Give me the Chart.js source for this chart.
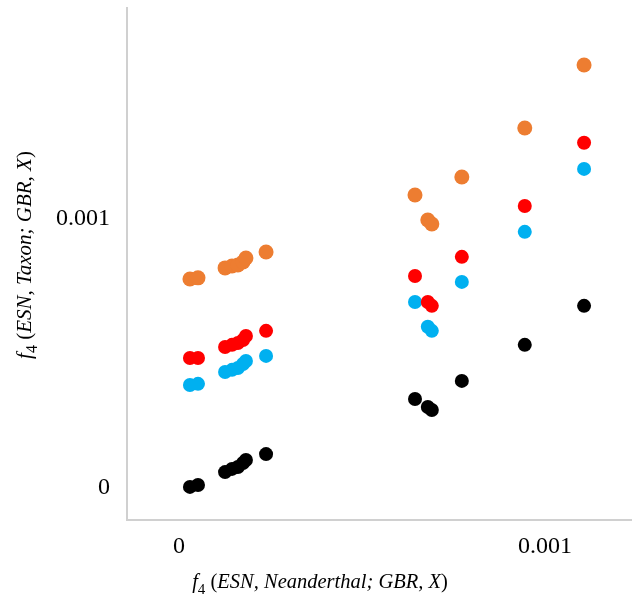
<!DOCTYPE html>
<html>
<head>
<meta charset="utf-8">
<script src="https://cdn.jsdelivr.net/npm/chart.js@4.4.1/dist/chart.umd.min.js"></script>
<style>
  html, body { margin: 0; padding: 0; background: #ffffff; }
  #wrap { width: 632px; height: 597px; position: relative; }
</style>
</head>
<body>
<div id="wrap"><canvas id="c" width="632" height="597"></canvas></div>
<script>
// f4(ESN, Neanderthal; GBR, X) for each population X
const xValues = [0.000030, 0.000052, 0.000126, 0.000145, 0.000161, 0.000175, 0.000183, 0.000238,
                 0.000645, 0.000680, 0.000691, 0.000773, 0.000945, 0.001107];
// f4(ESN, Taxon; GBR, X) for four taxa
const blackValues  = [0.000004, 0.000011, 0.000059, 0.000071, 0.000078, 0.000093, 0.000104, 0.000126,
                      0.000331, 0.000301, 0.000290, 0.000398, 0.000532, 0.000677];
const blueValues   = [0.000383, 0.000387, 0.000431, 0.000439, 0.000446, 0.000461, 0.000472, 0.000491,
                      0.000691, 0.000599, 0.000584, 0.000766, 0.000952, 0.001186];
const redValues    = [0.000483, 0.000483, 0.000524, 0.000532, 0.000539, 0.000550, 0.000565, 0.000584,
                      0.000788, 0.000691, 0.000677, 0.000859, 0.001048, 0.001283];
const orangeValues = [0.000777, 0.000781, 0.000818, 0.000825, 0.000829, 0.000840, 0.000855, 0.000877,
                      0.001089, 0.000996, 0.000981, 0.001156, 0.001338, 0.001572];
const xTicks = [0, 0.001];
const yTicks = [0, 0.001];
const tickLabels = ['0', '0.001'];

function pts(ys) { return xValues.map((x, i) => ({ x: x, y: ys[i] })); }

const SERIF = '"Liberation Serif", "Times New Roman", serif';

// draws the mixed-style axis titles: f (italic) 4 (subscript) ( ESN... (italic) )
function drawTitle(ctx, cx, cy, rotate, size, words) {
  const segs = [
    { t: 'f', f: 'italic ' + size + 'px ' + SERIF, dy: 0 },
    { t: '4', f: Math.round(size * 0.75) + 'px ' + SERIF, dy: size * 0.28 },
    { t: ' (', f: size + 'px ' + SERIF, dy: 0 },
    { t: words, f: 'italic ' + size + 'px ' + SERIF, dy: 0 },
    { t: ')', f: size + 'px ' + SERIF, dy: 0 }
  ];
  let total = 0;
  segs.forEach(s => { ctx.font = s.f; s.w = ctx.measureText(s.t).width; total += s.w; });
  ctx.save();
  ctx.translate(cx, cy);
  if (rotate) ctx.rotate(-Math.PI / 2);
  ctx.fillStyle = '#000000';
  ctx.textBaseline = 'alphabetic';
  ctx.textAlign = 'left';
  let x = -total / 2;
  segs.forEach(s => { ctx.font = s.f; ctx.fillText(s.t, x, s.dy); x += s.w; });
  ctx.restore();
}

const titlePlugin = {
  id: 'mixedTitles',
  afterDraw(chart) {
    const ctx = chart.ctx;
    drawTitle(ctx, 320, 588, false, 20.5, 'ESN, Neanderthal; GBR, X');
    drawTitle(ctx, 31, 255, true, 21, 'ESN, Taxon; GBR, X');
  }
};

const common = { pointRadius: 7, pointHoverRadius: 7, borderWidth: 0, showLine: false };

new Chart(document.getElementById('c'), {
  type: 'scatter',
  data: {
    datasets: [
      Object.assign({ label: 'black', data: pts(blackValues), backgroundColor: '#000000', borderColor: '#000000' }, common),
      Object.assign({ label: 'red', data: pts(redValues), backgroundColor: '#ff0000', borderColor: '#ff0000' }, common),
      Object.assign({ label: 'blue', data: pts(blueValues), backgroundColor: '#00b0f0', borderColor: '#00b0f0' }, common),
      Object.assign({ label: 'orange', data: pts(orangeValues), backgroundColor: '#ed7d31', borderColor: '#ed7d31' }, common, { pointRadius: 7.5, pointHoverRadius: 7.5 })
    ]
  },
  options: {
    responsive: false,
    animation: false,
    layout: { autoPadding: false, padding: { top: 8, right: 0, left: 0, bottom: 0 } },
    plugins: { legend: { display: false }, tooltip: { enabled: false }, title: { display: false } },
    scales: {
      x: {
        type: 'linear',
        min: -0.000142,
        max: 0.001238,
        afterFit(scale) { scale.height = 77; scale.paddingLeft = 0; scale.paddingRight = 0; },
        afterBuildTicks(scale) { scale.ticks = xTicks.map(v => ({ value: v })); },
        grid: { display: false, drawTicks: false },
        border: { display: true, color: '#d0d0d0', width: 2 },
        ticks: {
          padding: 12,
          color: '#000000',
          font: { family: SERIF, size: 24 },
          callback: (v) => tickLabels[xTicks.indexOf(v)]
        }
      },
      y: {
        type: 'linear',
        min: -0.000119,
        max: 0.001784,
        afterFit(scale) { scale.width = 127; scale.paddingTop = 0; scale.paddingBottom = 0; },
        afterBuildTicks(scale) { scale.ticks = yTicks.map(v => ({ value: v })); },
        grid: { display: false, drawTicks: false },
        border: { display: true, color: '#d0d0d0', width: 2 },
        ticks: {
          padding: 17,
          color: '#000000',
          font: { family: SERIF, size: 24 },
          callback: (v) => tickLabels[yTicks.indexOf(v)]
        }
      }
    }
  },
  plugins: [titlePlugin]
});
</script>
</body>
</html>
